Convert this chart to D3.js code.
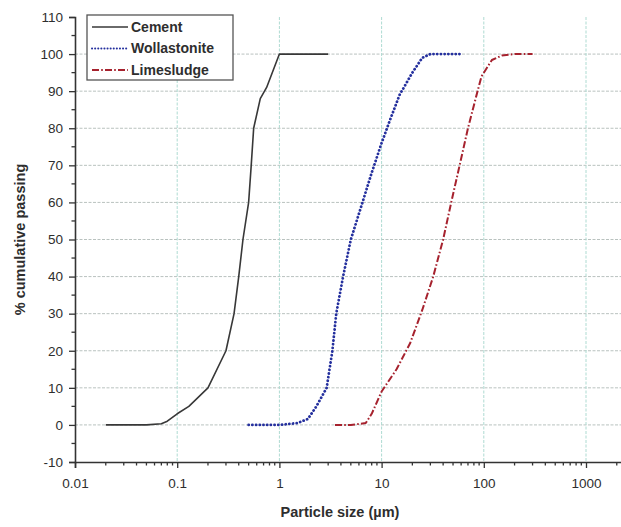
<!DOCTYPE html>
<html>
<head>
<meta charset="utf-8">
<script src="https://cdn.jsdelivr.net/npm/d3@7"></script>
<style>
  body { margin: 0; background: #fff; }
  text { font-family: 'Liberation Sans', Arial, sans-serif; fill: #2e2e2e; }
</style>
</head>
<body>
<svg id="chart" width="621" height="527"></svg>
<script>
// particle size (um) vs % cumulative passing
const cementSize = [0.02, 0.05, 0.07, 0.08, 0.1, 0.13, 0.2, 0.3, 0.36, 0.4, 0.44, 0.5, 0.53, 0.56, 0.65, 0.75, 1, 3];
const cementPass = [0, 0, 0.3, 1, 3, 5, 10, 20, 30, 40, 50, 60, 70, 80, 88, 91, 100, 100];

const wollSize = [0.5, 0.7, 1, 1.5, 1.9, 2.3, 2.9, 3.3, 3.6, 4.2, 5, 6.5, 8, 10, 12, 15, 20, 25, 30, 60];
const wollPass = [0, 0, 0, 0.5, 1.6, 5, 10, 20, 30, 40, 50, 60, 68, 76, 82, 89, 95, 99, 100, 100];

const limeSize = [3.5, 5, 7, 8, 10, 14, 19, 25, 32, 40, 48, 58, 70, 85, 95, 120, 150, 200, 300];
const limePass = [0, 0, 0.5, 3, 9, 15, 22, 31, 40, 50, 60, 70, 80, 89, 94, 98.4, 99.6, 100, 100];

const seriesNames = ['Cement', 'Wollastonite', 'Limesludge'];
const xTickVals = [0.01, 0.1, 1, 10, 100, 1000];
const xTickLabels = ['0.01', '0.1', '1', '10', '100', '1000'];
const yTickVals = d3.range(-10, 111, 10);

const W = 621, H = 527;
const svg = d3.select('#chart');

// one decade is ~102 px, so the axis runs past the right edge like the original
let x = d3.scaleLog().domain([0.01, 10000]).range([75, 75 + 6 * 102.2]);
let y = d3.scaleLinear().domain([-10, 110]).range([462, 17]);

let styles = [
  { color: '#383838', width: 1.6, dash: null, cap: 'butt' },
  { color: '#25309e', width: 2.8, dash: '0.1,3.6', cap: 'round' },
  { color: '#a6222e', width: 2, dash: '7,2.2,1.6,2.2', cap: 'butt' },
];

let series = [
  cementSize.map((s, i) => [s, cementPass[i]]),
  wollSize.map((s, i) => [s, wollPass[i]]),
  limeSize.map((s, i) => [s, limePass[i]]),
];

// grid
let grid = svg.append('g').attr('class', 'grid');
grid.selectAll('.hg')
  .data(d3.range(0, 101, 10))
  .enter().append('line')
    .attr('x1', x(0.01)).attr('x2', W)
    .attr('y1', d => y(d)).attr('y2', d => y(d))
    .attr('stroke', '#b9c2bf')
    .attr('stroke-width', 1)
    .attr('stroke-dasharray', '3,1.5');
grid.selectAll('.vg')
  .data([0.1, 1, 10, 100, 1000])
  .enter().append('line')
    .attr('x1', d => x(d)).attr('x2', d => x(d))
    .attr('y1', y(110)).attr('y2', y(-10))
    .attr('stroke', '#aedbd2')
    .attr('stroke-width', 1)
    .attr('stroke-dasharray', '3,1.5');

// axes
let xAxis = d3.axisBottom(x)
  .tickValues(xTickVals)
  .tickFormat((d, i) => xTickLabels[i])
  .tickSizeOuter(0)
  .tickSize(6)
  .tickPadding(10);
let gx = svg.append('g')
  .attr('transform', `translate(0,${y(-10)})`)
  .call(xAxis);

let minorX = [];
[0.01, 0.1, 1, 10, 100, 1000].forEach(dec => {
  for (let k = 2; k <= 9; k++) minorX.push(dec * k);
});
gx.selectAll('.minor')
  .data(minorX)
  .enter().append('line')
    .attr('x1', d => x(d)).attr('x2', d => x(d))
    .attr('y1', 0).attr('y2', 3.5)
    .attr('stroke', '#333').attr('stroke-width', 1.3);

let yAxis = d3.axisLeft(y)
  .tickValues(yTickVals)
  .tickFormat(d => String(d)) // plain hyphen for -10, as in the original
  .tickSizeOuter(0)
  .tickSize(6)
  .tickPadding(6);
let gy = svg.append('g')
  .attr('transform', `translate(${x(0.01)},0)`)
  .call(yAxis);

gy.selectAll('.minor')
  .data(d3.range(-5, 110, 10))
  .enter().append('line')
    .attr('x1', -3.5).attr('x2', 0)
    .attr('y1', d => y(d)).attr('y2', d => y(d))
    .attr('stroke', '#333').attr('stroke-width', 1.3);

[gx, gy].forEach(g => {
  g.select('.domain').attr('stroke', '#333').attr('stroke-width', 1.6);
  g.selectAll('.tick line').attr('stroke', '#333').attr('stroke-width', 1.3);
  g.selectAll('.tick text')
    .style('font-size', '13.5px')
    .style('font-family', "'Liberation Sans', Arial, sans-serif")
    .attr('fill', '#262626');
});

svg.append('text')
  .attr('x', 340).attr('y', 517)
  .attr('text-anchor', 'middle')
  .style('font-size', '14.5px').style('font-weight', 'bold')
  .text('Particle size (\u00b5m)');

svg.append('text')
  .attr('transform', `translate(25,${y(50)}) rotate(-90)`)
  .attr('text-anchor', 'middle')
  .style('font-size', '14.5px').style('font-weight', 'bold')
  .text('% cumulative passing');

// curves
let line = d3.line()
  .x(d => x(d[0]))
  .y(d => y(d[1]));

svg.append('g').selectAll('path')
  .data(series)
  .enter().append('path')
    .attr('d', line)
    .attr('fill', 'none')
    .attr('stroke', (d, i) => styles[i].color)
    .attr('stroke-width', (d, i) => styles[i].width)
    .attr('stroke-dasharray', (d, i) => styles[i].dash)
    .attr('stroke-linecap', (d, i) => styles[i].cap)
    .attr('stroke-linejoin', 'round');

// legend
let legend = svg.append('g').attr('transform', 'translate(87,15)');
legend.append('rect')
  .attr('width', 146).attr('height', 65)
  .attr('fill', '#fff')
  .attr('stroke', '#555').attr('stroke-width', 1.3);

let items = legend.selectAll('.item')
  .data(seriesNames)
  .enter().append('g')
    .attr('transform', (d, i) => `translate(0,${12 + i * 21.5})`);
items.append('line')
  .attr('x1', 5).attr('x2', 41)
  .attr('stroke', (d, i) => styles[i].color)
  .attr('stroke-width', (d, i) => Math.min(styles[i].width, 2))
  .attr('stroke-dasharray', (d, i) => i === 1 ? '0.1,3' : styles[i].dash)
  .attr('stroke-linecap', (d, i) => styles[i].cap);
items.append('text')
  .attr('x', 44).attr('dy', '0.35em')
  .style('font-size', '14px').style('font-weight', 'bold')
  .text(d => d);
</script>
</body>
</html>
